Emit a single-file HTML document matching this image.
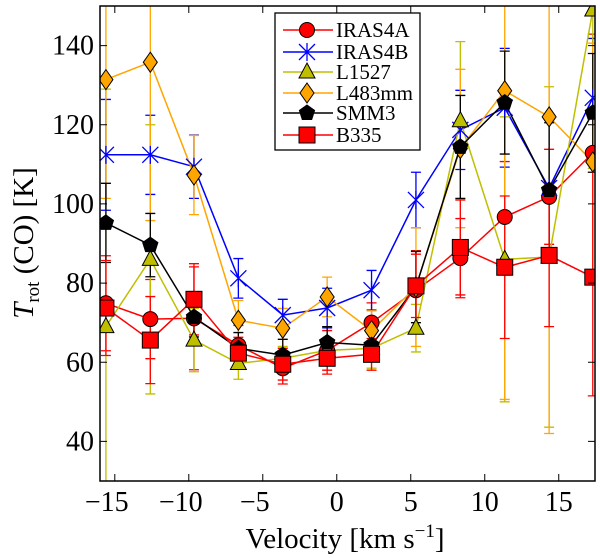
<!DOCTYPE html>
<html><head><meta charset="utf-8"><style>
body{margin:0;background:#fff;}
svg{display:block;}
svg text{font-family:"Liberation Serif","Times New Roman","DejaVu Serif",serif !important;}
</style></head><body>
<svg id="chart" width="600" height="558" viewBox="0 0 600 558" xmlns="http://www.w3.org/2000/svg">
<defs><clipPath id="clip"><rect x="100" y="6" width="495" height="475"/></clipPath></defs>
<rect x="0" y="0" width="600" height="558" fill="#fff"/>
<g id="plot" clip-path="url(#clip)"></g>
<g id="axes"></g>
<g id="legend"></g>
</svg>
<script>
const velocities = [-15.6,-12.6,-9.65,-6.65,-3.65,-0.65,2.35,5.35,8.35,11.35,14.35,17.3];
const seriesNames = ["IRAS4A","IRAS4B","L1527","L483mm","SMM3","B335"];
const iras4a = [74.9,70.9,71.1,64.3,58.5,63,70,78.2,86.3,96.7,101.8,112.9];
const iras4b = [112.4,112.4,109.4,81.2,71.9,73.7,78.2,101,118.7,124.3,104,126.8];
const l1527 = [69,86,65.6,59.7,61,63,63.5,68.6,121,86,86.6,149];
const l483mm = [131.4,135.8,107.3,70.6,68.6,76.5,68,79,114,128.6,122,110.6];
const smm3 = [95.2,89.6,71.4,63.5,61.8,65,64.3,79,114.4,125.6,103.5,123];
const b335 = [73.7,65.6,75.9,62.3,59.5,61,62,79.3,89,84,87,81.5];
const errIras4a = [12,10,13,5,4,5,5,10,10,14,12,30];
const errIras4b = [14,10,8,5,4,5,5,7,10,15,18,15];
const errL1527 = [60,34,8,4,3,3,5,6,20,36,43,40];
const errL483mm = [30,40,10,5,5,5,5,15,20,78,80,30];
const errSmm3 = [10,8,5,4,4,4,4,9,13,13,17,15];
const errB335 = [12,11,9,4,4,4,4,8,12,18,18,30];
const xTicks = [-15,-10,-5,0,5,10,15];
const yTicks = [40,60,80,100,120,140];

const NS="http://www.w3.org/2000/svg";
const X0=100,X1=595,Y0=6,Y1=481;
const XMIN=-16.0,XMAX=17.45,YMIN=30,YMAX=150;
function xs(v){return X0+(v-XMIN)/(XMAX-XMIN)*(X1-X0);}
function ys(v){return Y1-(v-YMIN)/(YMAX-YMIN)*(Y1-Y0);}
function mk(tag,attrs,parent){const e=document.createElementNS(NS,tag);for(const k in attrs)e.setAttribute(k,attrs[k]);parent.appendChild(e);return e;}

const series=[
 {vals:iras4a,err:errIras4a,color:"#ff0000",marker:"circle",ecolor:"#ff0000"},
 {vals:iras4b,err:errIras4b,color:"#0000ff",marker:"x",ecolor:"#0000ff"},
 {vals:l1527,err:errL1527,color:"#bfbf00",marker:"triangle",ecolor:"#bfbf00"},
 {vals:l483mm,err:errL483mm,color:"#ffa500",marker:"diamond",ecolor:"#ffa500"},
 {vals:smm3,err:errSmm3,color:"#000000",marker:"pentagon",ecolor:"#000000"},
 {vals:b335,err:errB335,color:"#ff0000",marker:"square",ecolor:"#ff0000"}
];

function drawMarker(g,type,cx,cy,color){
  let m;
  if(type==="circle") m=mk("circle",{cx:cx,cy:cy,r:7.5,fill:color,stroke:"#000","stroke-width":1},g);
  else if(type==="square") m=mk("rect",{x:cx-8,y:cy-8,width:16,height:16,fill:color,stroke:"#000","stroke-width":1},g);
  else if(type==="triangle") m=mk("polygon",{points:`${cx},${cy-9} ${cx+8},${cy+6} ${cx-8},${cy+6}`,fill:color,stroke:"#000","stroke-width":1},g);
  else if(type==="diamond") m=mk("polygon",{points:`${cx},${cy-10} ${cx+7},${cy} ${cx},${cy+10} ${cx-7},${cy}`,fill:color,stroke:"#000","stroke-width":1},g);
  else if(type==="pentagon"){let p=[];for(let i=0;i<5;i++){const a=-Math.PI/2+i*2*Math.PI/5;p.push((cx+8*Math.cos(a)).toFixed(1)+","+(cy+8*Math.sin(a)).toFixed(1));}
    m=mk("polygon",{points:p.join(" "),fill:color,stroke:"#000","stroke-width":1},g);}
  else if(type==="x"){m=mk("path",{d:`M${cx-8},${cy-8}L${cx+8},${cy+8}M${cx-8},${cy+8}L${cx+8},${cy-8}M${cx},${cy-9}L${cx},${cy+9}`,stroke:color,"stroke-width":1.3,fill:"none"},g);}
  return m;
}

const plot=document.getElementById("plot");
series.forEach((s,si)=>{
  const g=mk("g",{},plot);
  
  
  s.vals.forEach((v,i)=>{
    const x=xs(velocities[i]),yt=ys(v+s.err[i]),yb=ys(v-s.err[i]);
    const eb=mk("path",{d:`M${x},${yt}L${x},${yb}M${x-5},${yt}L${x+5},${yt}M${x-5},${yb}L${x+5},${yb}`,stroke:s.ecolor,"stroke-width":1.3,fill:"none"},g);
    
    
  });
  const pts=s.vals.map((v,i)=>xs(velocities[i]).toFixed(1)+","+ys(v).toFixed(1)).join(" ");
  const line=mk("polyline",{points:pts,fill:"none",stroke:s.color,"stroke-width":1.5},g);
  
  
});
series.forEach((s,si)=>{
  const g=mk("g",{},plot);
  
  
  s.vals.forEach((v,i)=>{
    const m=drawMarker(g,s.marker,xs(velocities[i]),ys(v),s.color);
    
    
  });
});

const ax=document.getElementById("axes");
const frame=mk("rect",{x:X0,y:Y0,width:X1-X0,height:Y1-Y0,fill:"none",stroke:"#000","stroke-width":1.5},ax);


xTicks.forEach(t=>{
  const x=xs(t);
  mk("path",{d:`M${x},${Y1}L${x},${Y1-7}M${x},${Y0}L${x},${Y0+7}`,stroke:"#000","stroke-width":1},ax);
  const lab=mk("text",{x:x-(t<0?8:0),y:511,"text-anchor":"middle","font-size":28},ax);
  lab.textContent=(t<0?"\u2212"+Math.abs(t):String(t));
  
  
});
yTicks.forEach(t=>{
  const y=ys(t);
  mk("path",{d:`M${X0},${y}L${X0+7},${y}M${X1},${y}L${X1-7},${y}`,stroke:"#000","stroke-width":1},ax);
  const lab=mk("text",{x:94,y:y+9,"text-anchor":"end","font-size":28},ax);
  lab.textContent=String(t);
  
  
});
const xl=mk("text",{x:345,y:548,"text-anchor":"middle","font-size":29},ax);
xl.innerHTML='Velocity [km s<tspan dy="-11" font-size="19">\u22121</tspan><tspan dy="11">]</tspan>';


const yl=mk("text",{transform:"translate(33,243) rotate(-90)","text-anchor":"middle","font-size":29},ax);
yl.innerHTML='<tspan font-style="italic">T</tspan><tspan font-size="19" dy="6">rot</tspan><tspan dy="-6"> (CO) [K]</tspan>';



const lg=document.getElementById("legend");


mk("rect",{x:275,y:13,width:145,height:137,fill:"#fff",stroke:"#000","stroke-width":1.3},lg);
const legY=[30,52,72,93,113,135];
series.forEach((s,i)=>{
  const g=mk("g",{},lg);
  
  
  mk("line",{x1:283,x2:333,y1:legY[i],y2:legY[i],stroke:s.color,"stroke-width":1.5},g);
  drawMarker(g,s.marker,307,legY[i],s.color);
  const t=mk("text",{x:336,y:legY[i]+7,"font-size":21},g);
  t.textContent=seriesNames[i];
});
</script>
</body></html>
